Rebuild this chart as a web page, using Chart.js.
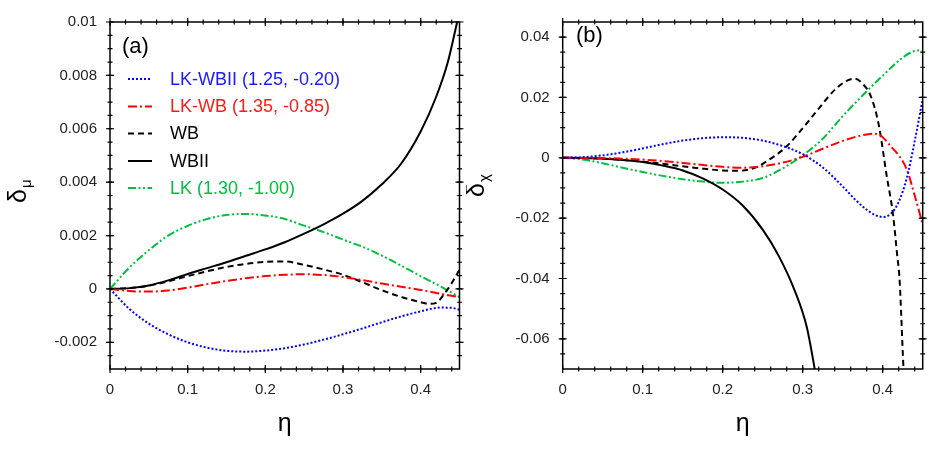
<!DOCTYPE html>
<html>
<head>
<meta charset="utf-8">
<script src="https://cdn.jsdelivr.net/npm/chart.js@4.4.1/dist/chart.umd.min.js"></script>
<style>
  html, body { margin: 0; padding: 0; background: #fff; }
  #wrap { position: relative; width: 932px; height: 467px; }
  canvas { position: absolute; top: 0; }
  #chart-a { left: 0; }
  #chart-b { left: 466px; }
</style>
</head>
<body>
<div id="wrap">
  <canvas id="chart-a" width="466" height="467"></canvas>
  <canvas id="chart-b" width="466" height="467"></canvas>
</div>
<script>
const FONT = '"Liberation Sans", Arial, Helvetica, sans-serif'

// 눈금 (두 패널 공통 x축)
const xTicks = [0, 0.1, 0.2, 0.3, 0.4]
const xTickLabels = ['0', '0.1', '0.2', '0.3', '0.4']
const aYTicks = [-0.002, 0, 0.002, 0.004, 0.006, 0.008, 0.01]
const aYTickLabels = ['-0.002', '0', '0.002', '0.004', '0.006', '0.008', '0.01']
const bYTicks = [-0.06, -0.04, -0.02, 0, 0.02, 0.04]
const bYTickLabels = ['-0.06', '-0.04', '-0.02', '0', '0.02', '0.04']

const legendLabels = ['LK-WBII (1.25, -0.20)', 'LK-WB (1.35, -0.85)', 'WB', 'WBII', 'LK (1.30, -1.00)']

const etaGrid = [0, 0.025, 0.05, 0.075, 0.1, 0.125, 0.15, 0.175, 0.2, 0.225, 0.25, 0.275, 0.3, 0.325, 0.35, 0.375, 0.4, 0.425, 0.45]

// (a) δμ
const aBlueEta = [0, 0.025, 0.05, 0.075, 0.1, 0.125, 0.15, 0.175, 0.2, 0.225, 0.25, 0.275, 0.3, 0.325, 0.35, 0.375, 0.4, 0.425, 0.44, 0.45]
const aBlue = [0, -0.00075, -0.0013, -0.0017, -0.002, -0.0022, -0.00232, -0.00235, -0.00231, -0.00222, -0.00208, -0.0019, -0.0017, -0.00148, -0.00125, -0.00103, -0.00084, -0.0007, -0.00071, -0.00078]
const aRed = [0, -0.00008, -0.0001, -0.00006, 0.00005, 0.00018, 0.0003, 0.0004, 0.00048, 0.00053, 0.00055, 0.00052, 0.00045, 0.00033, 0.0002, 0.00008, -0.00004, -0.00018, -0.00031]
const aWBEta = [0, 0.025, 0.05, 0.075, 0.1, 0.125, 0.15, 0.175, 0.2, 0.225, 0.25, 0.275, 0.3, 0.325, 0.35, 0.375, 0.4, 0.41, 0.42, 0.43, 0.44, 0.45]
const aWB = [0, 0.00003, 0.00012, 0.00028, 0.00048, 0.00066, 0.00082, 0.00094, 0.00101, 0.00103, 0.0009, 0.00073, 0.00053, 0.00025, -0.00005, -0.0003, -0.0005, -0.00056, -0.00052, -0.0002, 0.00022, 0.00072]
const aWBIIEta = [0, 0.025, 0.05, 0.075, 0.1, 0.125, 0.15, 0.175, 0.2, 0.225, 0.25, 0.275, 0.3, 0.325, 0.35, 0.375, 0.4, 0.42, 0.435, 0.447]
const aWBII = [0, 0.00003, 0.00013, 0.00032, 0.00056, 0.00078, 0.001, 0.00124, 0.00148, 0.00175, 0.00207, 0.00242, 0.00282, 0.0033, 0.00392, 0.0047, 0.0059, 0.0072, 0.0085, 0.01]
const aGreen = [0, 0.0008, 0.00145, 0.002, 0.00236, 0.00262, 0.00277, 0.00281, 0.00275, 0.00262, 0.00237, 0.00213, 0.00185, 0.00158, 0.00125, 0.00087, 0.00048, 0.0001, -0.00031]

// (b) δχ
const bBlueEta = [0, 0.025, 0.05, 0.075, 0.1, 0.125, 0.15, 0.175, 0.2, 0.225, 0.25, 0.275, 0.3, 0.325, 0.35, 0.365, 0.38, 0.39, 0.4, 0.41, 0.42, 0.43, 0.44, 0.45]
const bBlue = [0, 0.0002, 0.0008, 0.0018, 0.0031, 0.0045, 0.0057, 0.0065, 0.0068, 0.0066, 0.0057, 0.0039, 0.0012, -0.0032, -0.0095, -0.0137, -0.0172, -0.0189, -0.0196, -0.0186, -0.0146, -0.0068, 0.0055, 0.0195]
const bRedEta = [0, 0.05, 0.1, 0.15, 0.2, 0.225, 0.25, 0.275, 0.3, 0.325, 0.35, 0.375, 0.39, 0.4, 0.41, 0.42, 0.43, 0.44, 0.45]
const bRed = [0, -0.0001, -0.0006, -0.0017, -0.003, -0.0033, -0.0028, -0.0016, 0.0003, 0.003, 0.0056, 0.0075, 0.008, 0.0068, 0.0038, 0.0008, -0.0038, -0.0125, -0.022]
const bWBEta = [0, 0.025, 0.05, 0.075, 0.1, 0.125, 0.15, 0.175, 0.2, 0.22, 0.24, 0.26, 0.28, 0.3, 0.32, 0.34, 0.355, 0.365, 0.375, 0.385, 0.395, 0.405, 0.413, 0.418, 0.421, 0.426, 0.428]
const bWB = [0, -0.0001, -0.0003, -0.0007, -0.0013, -0.002, -0.0028, -0.0036, -0.0042, -0.0043, -0.0033, -0.0003, 0.0038, 0.0098, 0.0163, 0.0225, 0.0255, 0.0262, 0.0245, 0.0205, 0.011, -0.006, -0.019, -0.032, -0.04, -0.07, -0.08]
const bWBIIEta = [0, 0.025, 0.05, 0.075, 0.1, 0.125, 0.15, 0.175, 0.2, 0.225, 0.25, 0.27, 0.29, 0.305, 0.315, 0.318]
const bWBII = [0, -0.0001, -0.0003, -0.0007, -0.0014, -0.0026, -0.0042, -0.0068, -0.0105, -0.0158, -0.0238, -0.0325, -0.044, -0.056, -0.07, -0.075]
const bGreenEta = [0, 0.025, 0.05, 0.075, 0.1, 0.125, 0.15, 0.175, 0.2, 0.225, 0.25, 0.275, 0.3, 0.325, 0.35, 0.375, 0.4, 0.425, 0.44, 0.45]
const bGreen = [0, -0.0006, -0.0018, -0.0033, -0.0047, -0.006, -0.0071, -0.0079, -0.0083, -0.0079, -0.0067, -0.0035, 0.0008, 0.0063, 0.0138, 0.0207, 0.0272, 0.0332, 0.0354, 0.0356]

// 선 스타일 (범례 순서와 동일)
const styles = [
  { color: '#0000ff', text: '#1a1aff', dash: [2, 2] },
  { color: '#ff0000', text: '#ff1a1a', dash: [9, 3, 2, 3] },
  { color: '#000000', text: '#000000', dash: [6, 4] },
  { color: '#000000', text: '#000000', dash: [] },
  { color: '#00c040', text: '#00c040', dash: [8, 2.5, 2, 2.5, 2, 2.5] }
]

const toPoints = (eta, vals) => eta.map((x, i) => ({ x, y: vals[i] }))

function buildDatasets(series) {
  return series.map((pts, i) => ({
    data: pts,
    borderColor: styles[i].color,
    borderDash: styles[i].dash,
    borderWidth: 2,
    pointRadius: 0,
    fill: false,
    cubicInterpolationMode: 'monotone'
  }))
}

// 테두리 + 안팎으로 걸치는 눈금 + 축 제목 등
function decorPlugin(cfg) {
  return {
    id: 'decor',
    afterDraw(chart) {
      const { ctx, chartArea: a, scales: { x, y } } = chart
      ctx.save()
      ctx.strokeStyle = '#000'
      ctx.lineWidth = 1.5
      ctx.strokeRect(a.left, a.top, a.right - a.left, a.bottom - a.top)

      ctx.lineWidth = 1.2
      const tickX = (v, len) => {
        const px = x.getPixelForValue(v)
        ctx.beginPath()
        ctx.moveTo(px, a.bottom - len); ctx.lineTo(px, a.bottom + len)
        ctx.moveTo(px, a.top - len); ctx.lineTo(px, a.top + len)
        ctx.stroke()
      }
      const tickY = (v, len) => {
        const py = y.getPixelForValue(v)
        ctx.beginPath()
        ctx.moveTo(a.left - len, py); ctx.lineTo(a.left + len, py)
        ctx.moveTo(a.right - len, py); ctx.lineTo(a.right + len, py)
        ctx.stroke()
      }
      for (let i = 1; i * 0.02 < 0.45; i++) tickX(i * 0.02, 2.5)
      xTicks.forEach(v => tickX(v, 4))
      for (let v = cfg.yMin + cfg.yMinor; v < cfg.yMax - 1e-9; v += cfg.yMinor) tickY(v, 2.5)
      cfg.yTicks.forEach(v => tickY(v, 4))

      ctx.fillStyle = '#000'
      ctx.textAlign = 'left'
      ctx.textBaseline = 'alphabetic'
      ctx.font = `22px ${FONT}`
      ctx.fillText(cfg.tag, cfg.tagX, cfg.tagY)

      ctx.textAlign = 'center'
      ctx.font = `25px ${FONT}`
      ctx.fillText('η', (a.left + a.right) / 2, 431)

      // 회전된 y축 제목 δ + 아래첨자
      ctx.save()
      ctx.translate(cfg.ylabX, cfg.ylabY)
      ctx.rotate(-Math.PI / 2)
      ctx.textAlign = 'left'
      ctx.font = `25px ${FONT}`
      ctx.fillText('δ', 0, 0)
      const w = ctx.measureText('δ').width
      ctx.font = `15px ${FONT}`
      ctx.fillText(cfg.sub, w + 1, 5)
      ctx.restore()

      if (cfg.legend) {
        const rows = [79, 106.5, 133.5, 161, 188]
        ctx.textAlign = 'left'
        ctx.textBaseline = 'middle'
        ctx.font = `18px ${FONT}`
        legendLabels.forEach((lab, i) => {
          ctx.strokeStyle = styles[i].color
          ctx.lineWidth = 2
          ctx.setLineDash(styles[i].dash)
          ctx.beginPath()
          ctx.moveTo(128, rows[i]); ctx.lineTo(152, rows[i])
          ctx.stroke()
          ctx.setLineDash([])
          ctx.fillStyle = styles[i].text
          ctx.fillText(lab, 170, rows[i] + 1)
        })
      }
      ctx.restore()
    }
  }
}

function makeChart(id, series, cfg) {
  return new Chart(document.getElementById(id), {
    type: 'line',
    data: { datasets: buildDatasets(series) },
    options: {
      responsive: false,
      animation: false,
      devicePixelRatio: 1,
      layout: { padding: { left: 0, top: cfg.padTop, right: cfg.padRight, bottom: 0 } },
      plugins: { legend: { display: false }, tooltip: { enabled: false } },
      scales: {
        x: {
          type: 'linear', min: 0, max: 0.45,
          grid: { display: false, drawTicks: false }, border: { display: false },
          afterBuildTicks: s => { s.ticks = xTicks.map(v => ({ value: v })) },
          afterFit: s => { s.height = 98 },
          ticks: {
            autoSkip: false, maxRotation: 0, padding: 12, color: '#222',
            font: { family: FONT, size: 15 },
            callback: (v, i) => xTickLabels[i]
          }
        },
        y: {
          type: 'linear', min: cfg.yMin, max: cfg.yMax,
          grid: { display: false, drawTicks: false }, border: { display: false },
          afterBuildTicks: s => { s.ticks = cfg.yTicks.map(v => ({ value: v })) },
          afterFit: s => { s.width = cfg.yWidth },
          ticks: {
            autoSkip: false, padding: 13, color: '#222',
            font: { family: FONT, size: 15 },
            callback: (v, i) => cfg.yTickLabels[i]
          }
        }
      }
    },
    plugins: [decorPlugin(cfg)]
  })
}

makeChart('chart-a', [
  toPoints(aBlueEta, aBlue),
  toPoints(etaGrid, aRed),
  toPoints(aWBEta, aWB),
  toPoints(aWBIIEta, aWBII),
  toPoints(etaGrid, aGreen)
], {
  padTop: 20, padRight: 6.5, yWidth: 110,
  yMin: -0.003, yMax: 0.01, yMinor: 0.0005,
  yTicks: aYTicks, yTickLabels: aYTickLabels,
  tag: '(a)', tagX: 122, tagY: 53,
  ylabX: 26, ylabY: 203, sub: 'μ', legend: true
})

makeChart('chart-b', [
  toPoints(bBlueEta, bBlue),
  toPoints(bRedEta, bRed),
  toPoints(bWBEta, bWB),
  toPoints(bWBIIEta, bWBII),
  toPoints(bGreenEta, bGreen)
], {
  padTop: 10, padRight: 9.3, yWidth: 96.7,
  yMin: -0.07, yMax: 0.045, yMinor: 0.005,
  yTicks: bYTicks, yTickLabels: bYTickLabels,
  tag: '(b)', tagX: 110, tagY: 42,
  ylabX: 18, ylabY: 197, sub: 'χ', legend: false
})
</script>
</body>
</html>
